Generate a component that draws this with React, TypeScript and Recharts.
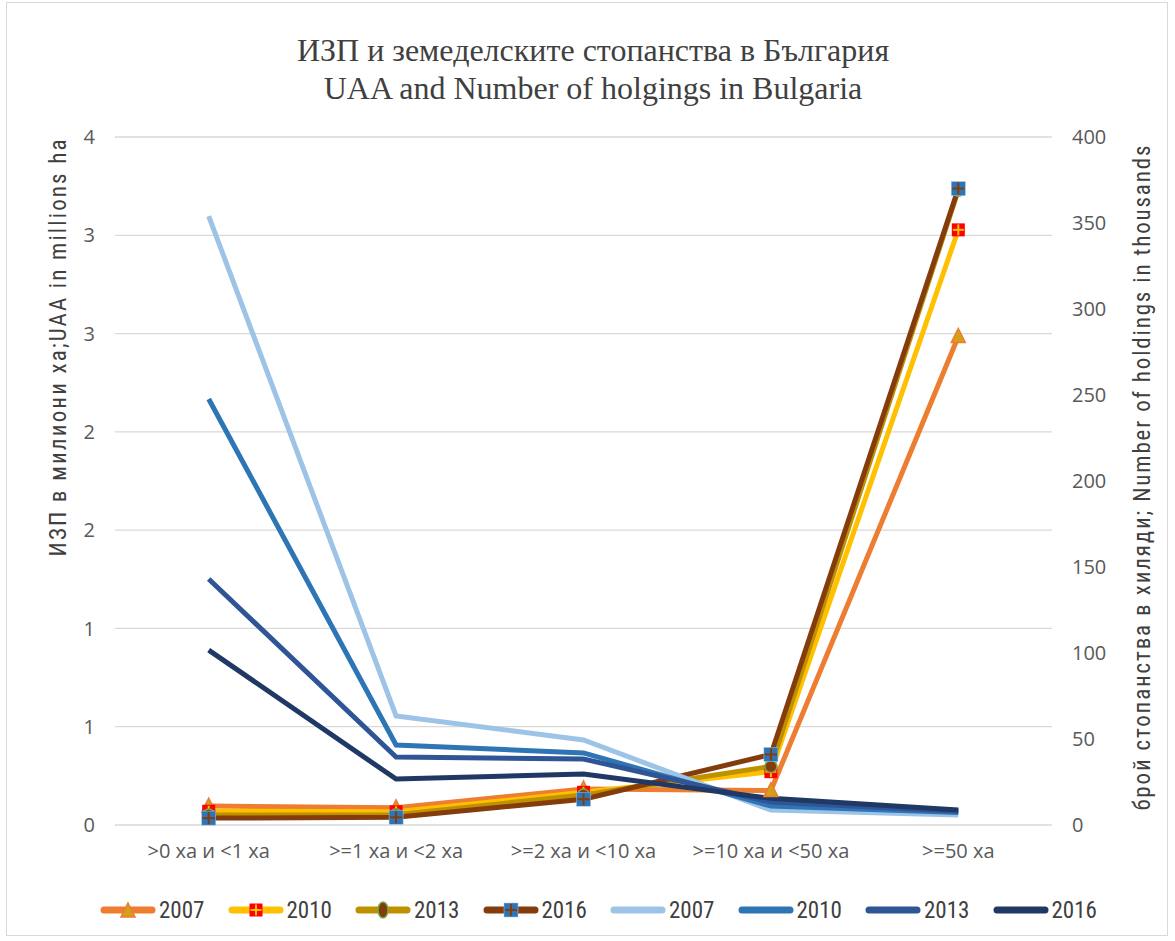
import React from 'react';
import { LineChart, Line, XAxis, YAxis, CartesianGrid } from 'recharts';

// categories (farm size classes)
const categories = ['>0 ха и <1 ха', '>=1 ха и <2 ха', '>=2 ха и <10 ха', '>=10 ха и <50 ха', '>=50 ха'];

// UAA, million ha (left axis)
const uaa2007 = [0.11, 0.1, 0.21, 0.2, 2.84];
const uaa2010 = [0.08, 0.077, 0.19, 0.31, 3.46];
const uaa2013 = [0.058, 0.06, 0.175, 0.34, 3.69];
const uaa2016 = [0.04, 0.045, 0.15, 0.41, 3.7];

// holdings, thousands (right axis)
const hold2007 = [354, 63.4, 49.4, 8.7, 5.8];
const hold2010 = [247.7, 46.5, 41.9, 11, 7.2];
const hold2013 = [143, 39.5, 38.4, 13.4, 8];
const hold2016 = [101.7, 26.7, 29.6, 15.5, 8.7];

const leftTicks = [0, 0.5714, 1.1429, 1.7143, 2.2857, 2.8571, 3.4286, 4];
const rightTicks = [0, 50, 100, 150, 200, 250, 300, 350, 400];

const data = categories.map((name, i) => ({
  name,
  u2007: uaa2007[i],
  u2010: uaa2010[i],
  u2013: uaa2013[i],
  u2016: uaa2016[i],
  h2007: hold2007[i],
  h2010: hold2010[i],
  h2013: hold2013[i],
  h2016: hold2016[i],
}));

const C = {
  orange: '#ED7D31',
  yellow: '#FFC000',
  olive: '#BF9000',
  brown: '#843C0C',
  lblue: '#9DC3E6',
  blue: '#2E75B6',
  dblue: '#2F5597',
  navy: '#203864',
  red: '#FF0000',
  green: '#70AD47',
};

const Triangle = ({ cx, cy }: any) => (
  <polygon
    points={`${cx},${cy - 8} ${cx + 7},${cy + 6} ${cx - 7},${cy + 6}`}
    fill="#D4A017"
    stroke={C.orange}
    strokeWidth={1.5}
  />
);

const RedPlus = ({ cx, cy }: any) => (
  <g>
    <rect x={cx - 6.5} y={cy - 6.5} width={13} height={13} fill={C.red} />
    <line x1={cx} y1={cy - 5.5} x2={cx} y2={cy + 5.5} stroke={C.yellow} strokeWidth={2} />
    <line x1={cx - 5.5} y1={cy} x2={cx + 5.5} y2={cy} stroke={C.yellow} strokeWidth={2} />
  </g>
);

const BrownCircle = ({ cx, cy, rx = 6, ry = 6 }: any) => (
  <ellipse cx={cx} cy={cy} rx={rx} ry={ry} fill={C.brown} stroke={C.green} strokeWidth={1.5} />
);

const BluePlus = ({ cx, cy }: any) => (
  <g>
    <rect x={cx - 7} y={cy - 7} width={14} height={14} fill={C.blue} stroke="#9DC3E6" strokeWidth={0.5} />
    <line x1={cx} y1={cy - 6} x2={cx} y2={cy + 6} stroke={C.brown} strokeWidth={2} />
    <line x1={cx - 6} y1={cy} x2={cx + 6} y2={cy} stroke={C.brown} strokeWidth={2} />
  </g>
);

const dotOf = (Shape: any) => (props: any) => <Shape key={`d-${props.index}`} cx={props.cx} cy={props.cy} />;

const legendItems = [
  { label: '2007', color: C.orange, marker: 'tri' },
  { label: '2010', color: C.yellow, marker: 'red' },
  { label: '2013', color: C.olive, marker: 'circ' },
  { label: '2016', color: C.brown, marker: 'blue' },
  { label: '2007', color: C.lblue },
  { label: '2010', color: C.blue },
  { label: '2013', color: C.dblue },
  { label: '2016', color: C.navy },
];

const LegendMarker = ({ marker }: { marker?: string }) => {
  if (marker === 'tri') return <Triangle cx={28} cy={11} />;
  if (marker === 'red') return <RedPlus cx={28} cy={10} />;
  if (marker === 'circ') return <BrownCircle cx={28} cy={10} rx={5} ry={8} />;
  if (marker === 'blue') return <BluePlus cx={28} cy={10} />;
  return null;
};

const tickFont = { fontFamily: '"Open Sans", sans-serif', fontSize: 20, fill: '#595959' };
const narrow = '"Liberation Sans Narrow", "Roboto Condensed", "Noto Sans", sans-serif';

export default function App() {
  return (
    <div style={{ position: 'absolute', left: 0, top: 0, width: 1175, height: 941, background: '#fff' }}>
      <div
        style={{
          position: 'absolute',
          left: 6,
          top: 2,
          width: 1162,
          height: 934,
          border: '1px solid #d9d9d9',
          boxSizing: 'border-box',
        }}
      />
      <div
        style={{
          position: 'absolute',
          left: 0,
          top: 31,
          width: 1186,
          textAlign: 'center',
          fontFamily: '"Liberation Serif", "Times New Roman", serif',
          fontSize: 32,
          lineHeight: '38px',
          color: '#404040',
        }}
      >
        <div>ИЗП и земеделските стопанства в България</div>
        <div>UAA and Number of holgings in Bulgaria</div>
      </div>

      <div style={{ position: 'absolute', left: 0, top: 0 }}>
        <LineChart
          width={1175}
          height={941}
          data={data}
          margin={{ top: 137, right: 23, bottom: 66, left: 15 }}
        >
          <CartesianGrid yAxisId="left" vertical={false} stroke="#d9d9d9" strokeWidth={1.3} />
          <XAxis
            dataKey="name"
            axisLine={false}
            tickLine={false}
            height={50}
            tickMargin={13}
            interval={0}
            padding={{ left: 93.7, right: 93.7 }}
            tick={tickFont}
          />
          <YAxis
            yAxisId="left"
            domain={[0, 4]}
            ticks={leftTicks}
            tickFormatter={(v: number) => String(Math.round(v))}
            axisLine={false}
            tickLine={false}
            tickMargin={14}
            width={100}
            tick={tickFont}
          />
          <YAxis
            yAxisId="right"
            orientation="right"
            domain={[0, 400]}
            ticks={rightTicks}
            axisLine={false}
            tickLine={false}
            tickMargin={14}
            width={100}
            tick={{ ...tickFont, textAnchor: 'start' }}
          />
          <Line yAxisId="left" dataKey="u2007" stroke={C.orange} strokeWidth={5} dot={dotOf(Triangle)} isAnimationActive={false} />
          <Line yAxisId="left" dataKey="u2010" stroke={C.yellow} strokeWidth={5} dot={dotOf(RedPlus)} isAnimationActive={false} />
          <Line yAxisId="left" dataKey="u2013" stroke={C.olive} strokeWidth={5} dot={dotOf(BrownCircle)} isAnimationActive={false} />
          <Line yAxisId="left" dataKey="u2016" stroke={C.brown} strokeWidth={5} dot={dotOf(BluePlus)} isAnimationActive={false} />
          <Line yAxisId="right" dataKey="h2007" stroke={C.lblue} strokeWidth={5} dot={false} isAnimationActive={false} />
          <Line yAxisId="right" dataKey="h2010" stroke={C.blue} strokeWidth={5} dot={false} isAnimationActive={false} />
          <Line yAxisId="right" dataKey="h2013" stroke={C.dblue} strokeWidth={5} dot={false} isAnimationActive={false} />
          <Line yAxisId="right" dataKey="h2016" stroke={C.navy} strokeWidth={5} dot={false} isAnimationActive={false} />
        </LineChart>
      </div>

      <svg width={1175} height={941} style={{ position: 'absolute', left: 0, top: 0, pointerEvents: 'none' }}>
        <text
          transform="translate(66,348) rotate(-90)"
          textAnchor="middle"
          fontFamily={narrow}
          fontSize={23}
          fill="#404040"
          textLength={417}
          lengthAdjust="spacing"
        >
          ИЗП в милиони ха;UAA in millions ha
        </text>
        <text
          transform="translate(1150,478) rotate(-90)"
          textAnchor="middle"
          fontFamily={narrow}
          fontSize={23}
          fill="#404040"
          textLength={665}
          lengthAdjust="spacing"
        >
          брой стопанства в хиляди; Number of holdings in thousands
        </text>
      </svg>

      <div style={{ position: 'absolute', left: 100, top: 897, display: 'flex' }}>
        {legendItems.map((it, i) => (
          <div key={i} style={{ width: 127.5, display: 'flex', alignItems: 'center' }}>
            <svg width={56} height={22}>
              <line x1={4} y1={10} x2={52} y2={10} stroke={it.color} strokeWidth={7} strokeLinecap="round" />
              <LegendMarker marker={it.marker} />
            </svg>
            <span style={{ fontFamily: narrow, fontSize: 23, color: '#404040', marginLeft: 3 }}>{it.label}</span>
          </div>
        ))}
      </div>
    </div>
  );
}
